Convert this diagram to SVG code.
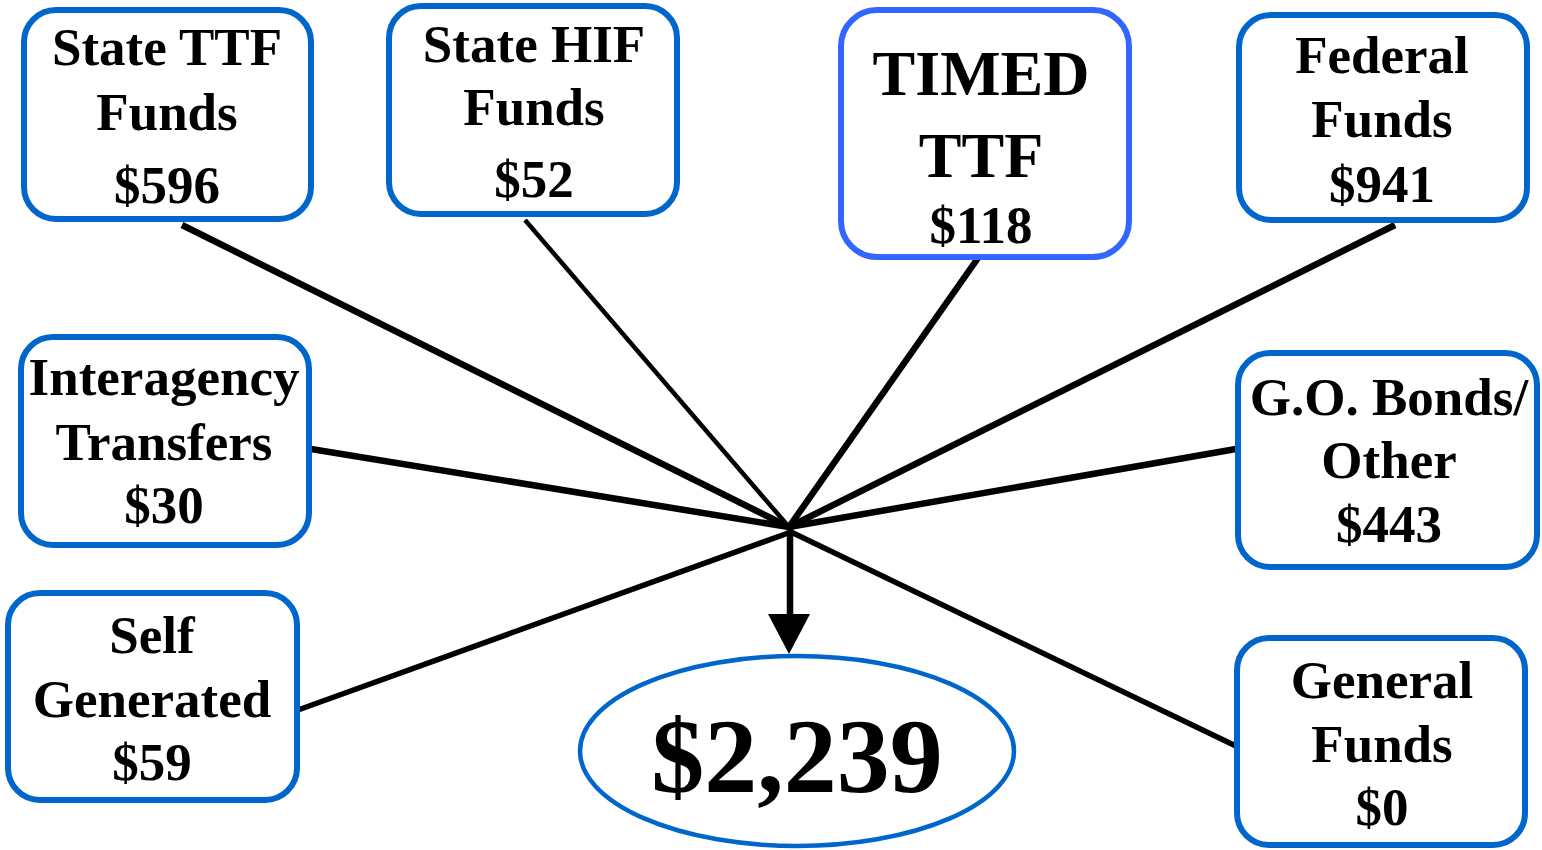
<svg xmlns="http://www.w3.org/2000/svg" width="1542" height="850" viewBox="0 0 1542 850">
<style>
.box{fill:#fff;stroke:#0066CC;stroke-width:6}
.boxt{fill:#fff;stroke:#3366FF;stroke-width:6}
.t{font-family:"Liberation Serif","Times New Roman",serif;font-weight:bold;font-size:53px;text-anchor:middle;fill:#000}
.big{font-size:64px}
.c{stroke:#000;stroke-width:6.5;fill:none;stroke-linecap:butt}
</style>
<rect width="1542" height="850" fill="#fff"/>
<g id="connectors">
<line class="c" x1="182" y1="225" x2="789" y2="527"/>
<line class="c" x1="525" y1="220" x2="789" y2="527" style="stroke-width:4.5"/>
<line class="c" x1="978" y1="258" x2="789" y2="527"/>
<line class="c" x1="1395" y1="225" x2="789" y2="527"/>
<line class="c" x1="311" y1="449" x2="789" y2="527"/>
<line class="c" x1="1236" y1="449" x2="789" y2="527"/>
<line class="c" x1="298" y1="710" x2="791" y2="532" style="stroke-width:5.5"/>
<line class="c" x1="1238" y1="747" x2="791" y2="532" style="stroke-width:5.5"/>
<line class="c" x1="790" y1="527" x2="790" y2="616"/>
<path d="M768,614 L810,614 L789,654 Z" fill="#000"/>
</g>
<g id="state-ttf">
<rect class="box" x="24" y="10" width="287" height="209" rx="32"/>
<text class="t" x="167" y="65">State TTF</text>
<text class="t" x="167" y="130">Funds</text>
<text class="t" x="167" y="203">$596</text>
</g>
<g id="state-hif">
<rect class="box" x="389" y="6" width="288" height="208" rx="32"/>
<text class="t" x="534" y="62">State HIF</text>
<text class="t" x="534" y="125">Funds</text>
<text class="t" x="534" y="197">$52</text>
</g>
<g id="timed-ttf">
<rect class="boxt" x="841" y="10" width="288" height="247" rx="36"/>
<text class="t big" x="981" y="95">TIMED</text>
<text class="t big" x="981" y="177">TTF</text>
<text class="t" x="981" y="243">$118</text>
</g>
<g id="federal">
<rect class="box" x="1239" y="15" width="288" height="205" rx="32"/>
<text class="t" x="1382" y="73">Federal</text>
<text class="t" x="1382" y="137">Funds</text>
<text class="t" x="1382" y="202">$941</text>
</g>
<g id="interagency">
<rect class="box" x="21" y="337" width="288" height="208" rx="32"/>
<text class="t" x="164" y="395">Interagency</text>
<text class="t" x="164" y="460">Transfers</text>
<text class="t" x="164" y="523">$30</text>
</g>
<g id="go-bonds">
<rect class="box" x="1238" y="353" width="299" height="214" rx="32"/>
<text class="t" x="1389" y="415">G.O. Bonds/</text>
<text class="t" x="1389" y="478">Other</text>
<text class="t" x="1389" y="542">$443</text>
</g>
<g id="self-generated">
<rect class="box" x="8" y="593" width="289" height="207" rx="32"/>
<text class="t" x="152" y="653">Self</text>
<text class="t" x="152" y="717">Generated</text>
<text class="t" x="152" y="780">$59</text>
</g>
<g id="general">
<rect class="box" x="1237" y="638" width="288" height="207" rx="32"/>
<text class="t" x="1382" y="698">General</text>
<text class="t" x="1382" y="762">Funds</text>
<text class="t" x="1382" y="825">$0</text>
</g>
<g id="total">
<ellipse cx="797" cy="751" rx="217" ry="95" fill="#fff" stroke="#0066CC" stroke-width="4.5"/>
<text class="t" x="797" y="792" style="font-size:106px">$2,239</text>
</g>
</svg>
